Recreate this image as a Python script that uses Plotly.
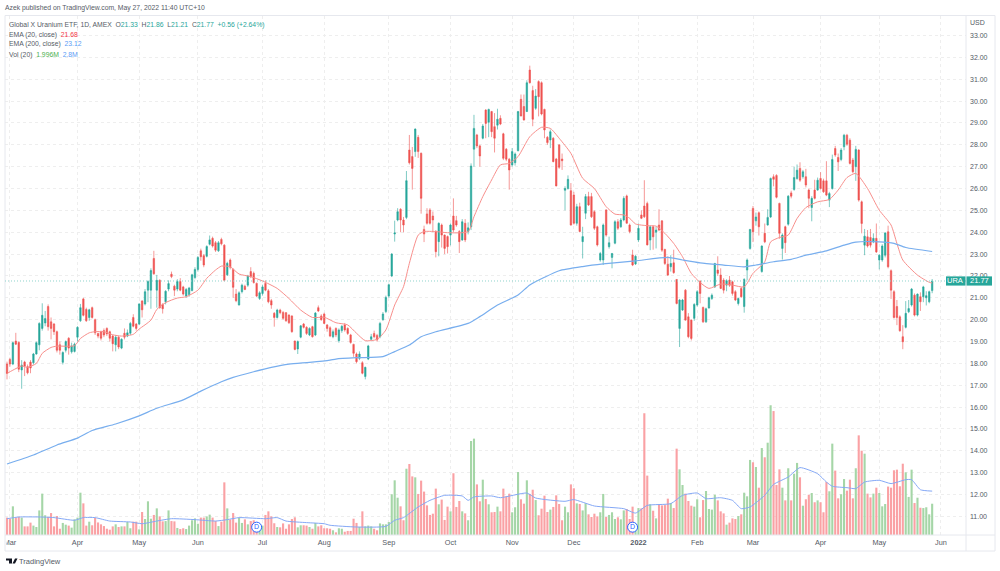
import plotly.graph_objects as go

# Daily OHLC for URA, oldest session first (index 0 = late Feb 2021)
opens = [17.97,18.18,17.97,19.02,18.96,17.7,18.06,17.85,18.06,18.03,
18.43,18.85,19.6,19.85,20.6,19.9,19.8,19.45,18.85,18.05,
18.6,19.15,18.53,18.55,19.2,19.95,20.95,20.47,20.1,20.55,
20.0,19.37,19.45,19.5,19.6,19.45,19.25,18.85,19.2,18.7,
19.38,19.25,19.38,20.1,19.8,19.8,20.85,20.72,21.35,21.35,
22.8,21.35,21.8,20.7,20.82,21.4,22.08,21.53,21.4,21.75,
21.5,21.08,21.15,21.33,21.93,22.3,23.15,22.93,22.9,23.45,
23.72,23.52,23.15,23.67,23.41,22.05,22.73,22.3,21.17,20.67,
21.28,21.53,21.58,22.2,22.12,21.66,20.97,21.2,21.66,21.32,
20.87,20.29,20.1,20.44,20.33,20.32,20.21,20.17,19.02,18.66,
19.2,19.8,19.65,19.3,19.68,19.3,20.55,20.17,20.26,19.76,
19.63,19.22,19.6,19.04,19.5,19.76,19.6,19.3,18.87,18.43,
18.23,18.03,17.4,18.2,19.1,19.37,19.28,19.22,20.0,20.37,
21.08,22.0,23.92,24.56,25.05,24.56,24.68,27.76,27.46,27.69,
28.34,27.61,24.13,24.84,25.02,24.74,24.03,23.57,24.33,23.87,
23.8,23.87,24.74,24.53,24.03,23.65,24.41,24.03,24.25,27.8,
28.45,27.95,28.3,29.59,29.03,29.52,28.83,28.9,29.21,28.5,
27.8,27.34,27.08,27.18,27.73,30.08,29.75,29.52,31.42,30.48,
29.67,30.89,30.84,29.62,28.34,28.22,28.3,27.35,28.0,27.35,
25.92,26.0,25.9,25.7,24.41,25.17,23.57,24.87,25.63,25.63,
24.94,24.25,22.73,22.73,25.02,23.34,22.85,23.5,24.48,24.25,
24.56,25.66,24.33,22.96,22.55,23.65,24.79,25.2,25.32,23.64,
24.25,24.0,24.33,24.52,23.21,22.54,22.42,22.6,21.84,19.6,
20.44,21.35,20.13,19.98,20.06,20.67,21.76,20.56,19.9,20.54,
20.97,21.5,22.27,22.04,21.81,21.58,21.81,21.73,21.28,20.74,
21.43,20.6,22.27,23.26,25.09,24.52,24.89,22.2,23.95,24.33,
24.7,26.54,26.6,25.32,23.26,24.25,24.37,25.8,25.96,26.46,
26.92,26.54,26.54,25.93,25.13,25.93,25.93,26.46,26.35,26.35,
25.47,26.0,27.83,27.42,27.33,27.91,28.44,28.21,27.3,27.0,
27.76,25.39,23.41,23.79,23.76,23.56,23.72,22.73,22.73,22.95,
24.02,22.24,21.28,20.6,20.13,19.22,19.65,20.36,20.67,21.12,
20.21,21.05,21.05,21.0,20.82,21.33]

highs = [18.08,18.26,18.99,19.4,19.0,18.15,18.12,17.95,18.15,18.48,
19.0,19.88,20.75,20.4,20.7,20.1,19.85,19.5,19.0,18.55,
19.05,19.2,18.95,18.95,19.7,20.72,21.0,20.55,20.5,20.6,
20.05,19.4,19.5,19.6,19.65,19.5,19.3,19.3,19.25,19.15,
19.6,19.55,19.9,20.25,19.85,20.75,20.9,21.4,21.8,22.35,
23.15,22.05,21.85,20.75,21.35,21.8,22.2,21.6,21.85,21.9,
21.55,21.45,21.5,22.1,22.4,22.9,23.25,23.0,23.4,23.85,
23.8,23.6,23.6,23.75,23.45,22.65,22.8,22.35,21.4,21.3,
21.65,21.6,22.05,22.4,22.2,21.7,21.3,21.6,21.8,21.4,
20.95,20.35,20.5,20.5,20.4,20.35,20.25,20.2,19.05,19.05,
19.75,19.85,19.7,19.65,19.72,20.35,20.65,20.25,20.32,19.8,
19.7,19.55,19.65,19.6,19.75,19.85,19.65,19.35,18.9,18.5,
18.55,18.1,17.85,18.85,19.35,19.5,19.35,19.9,20.35,21.1,
21.65,23.05,24.53,25.1,25.1,24.7,26.8,28.45,27.9,28.75,
28.45,27.65,24.3,25.1,25.1,24.95,24.1,24.45,24.4,23.9,
23.85,24.4,25.55,24.75,24.1,24.6,24.6,24.45,27.15,29.37,
28.5,28.0,28.95,29.63,29.65,29.55,29.45,29.65,29.35,28.55,
27.85,27.4,27.85,27.65,29.55,30.3,30.3,30.95,31.62,30.7,
30.55,30.95,30.9,29.65,28.4,28.7,28.35,27.4,28.0,27.6,
26.1,26.6,26.25,25.85,25.3,25.35,24.25,25.75,25.85,25.8,
25.0,24.3,23.1,24.4,25.05,23.8,23.05,24.55,24.6,24.65,
25.65,25.72,24.4,23.2,22.95,24.4,25.0,26.38,25.4,24.3,
24.3,24.25,25.05,24.55,23.25,22.9,22.95,23.2,21.85,20.95,
20.95,21.4,20.3,20.0,20.75,21.35,21.8,20.6,20.55,21.05,
21.2,22.6,22.9,22.35,21.9,21.85,22.0,21.78,21.35,21.0,
21.5,21.9,22.8,24.15,25.2,24.9,24.95,23.4,24.4,25.05,
26.5,26.65,26.65,25.35,23.95,24.3,25.7,25.9,27.0,27.1,
27.2,26.85,26.9,26.0,25.65,26.4,26.5,26.75,26.45,27.25,
25.85,27.55,27.95,27.6,27.85,28.5,28.5,28.3,27.4,27.95,
27.8,25.45,24.15,24.1,24.15,23.95,24.4,23.0,23.45,24.0,
24.3,22.3,21.35,20.9,20.2,19.75,20.85,20.9,21.45,21.2,
21.2,21.25,21.55,21.3,21.33,21.86]

lows = [17.27,17.85,17.92,18.84,17.6,16.84,17.42,17.5,17.55,17.95,
18.4,18.6,19.5,19.7,19.5,19.1,19.3,18.5,18.4,17.95,
18.5,18.4,18.45,18.5,19.0,19.9,20.15,19.9,19.95,20.05,
19.3,19.15,19.05,19.2,19.25,19.0,18.55,18.55,18.65,18.65,
19.1,19.2,19.3,19.65,19.5,19.75,20.1,20.65,20.8,20.5,
22.05,20.55,20.5,20.28,20.7,21.3,21.9,21.08,21.3,21.3,
21.1,21.0,21.05,21.3,21.85,22.2,22.7,22.4,22.85,23.4,
23.3,23.1,23.1,23.4,21.75,22.0,22.3,21.0,20.8,20.65,
21.2,21.35,21.5,21.9,21.65,21.03,20.9,21.1,21.3,20.75,
20.5,19.68,20.05,20.25,20.0,19.9,19.8,19.4,18.6,18.43,
19.15,19.6,19.3,19.25,19.18,19.25,20.35,19.95,19.8,19.45,
19.2,19.15,19.2,18.95,19.4,19.45,19.3,18.9,18.3,18.0,
18.15,17.5,17.27,18.15,19.05,19.15,19.0,19.15,19.95,20.3,
21.0,21.95,23.57,24.5,24.0,24.0,24.6,27.1,25.95,27.45,
27.4,24.85,23.55,24.35,24.35,24.0,22.85,22.9,23.3,23.0,
23.03,23.4,24.0,24.25,23.05,23.6,23.55,23.9,24.1,27.0,
27.85,27.0,28.25,28.3,28.35,28.35,27.65,28.7,28.9,27.3,
27.25,25.95,27.0,27.05,27.7,29.3,29.1,29.5,30.8,28.85,
29.6,29.3,29.35,28.3,28.0,27.85,27.2,26.1,26.9,26.85,
25.0,25.95,24.3,24.35,24.3,24.0,22.8,24.6,25.2,24.65,
24.1,23.35,22.65,22.5,23.8,23.25,22.35,23.45,24.1,24.2,
24.5,24.4,23.95,22.45,22.5,23.55,24.6,24.65,23.4,23.18,
23.2,23.26,24.05,23.1,22.5,22.0,22.2,22.1,20.7,18.75,
20.4,19.95,19.15,19.05,19.95,20.6,20.75,19.85,19.85,20.5,
20.9,21.45,22.0,21.4,21.2,21.3,21.5,21.1,20.85,20.65,
21.0,20.32,21.8,23.2,23.55,24.3,23.85,22.15,23.5,24.3,
24.65,26.1,25.55,23.7,22.75,23.05,24.3,25.55,25.9,26.4,
26.3,26.45,26.05,25.1,24.5,25.5,25.9,25.95,25.8,25.65,
25.15,25.95,27.45,26.8,27.25,27.75,27.95,27.1,26.7,26.35,
25.4,23.95,22.95,23.3,23.3,23.5,23.05,22.3,22.65,22.85,
22.35,20.95,20.05,19.75,19.45,18.65,19.6,20.3,20.6,20.15,
20.15,20.4,20.8,20.65,20.75,21.21]

closes = [17.54,17.97,18.95,18.88,17.73,17.92,17.88,17.57,17.79,18.43,
18.95,19.83,20.2,20.05,19.68,19.6,19.45,18.6,18.6,18.5,
19.0,18.7,18.8,18.88,19.65,20.55,20.2,19.95,20.45,20.1,
19.4,19.25,19.15,19.3,19.35,19.15,18.9,19.2,18.75,19.1,
19.2,19.4,19.83,19.7,19.6,20.72,20.45,21.28,21.75,22.25,
22.1,21.8,20.55,20.5,21.3,21.65,21.97,21.35,21.75,21.35,
21.17,21.38,21.45,22.05,22.3,22.85,22.88,22.5,23.35,23.65,
23.37,23.18,23.52,23.47,21.8,22.58,22.4,21.48,20.87,21.23,
21.58,21.38,22.0,21.97,21.7,21.08,21.23,21.5,21.35,20.82,
20.67,20.1,20.44,20.32,20.06,19.95,19.86,19.45,18.64,19.0,
19.72,19.65,19.37,19.6,19.22,20.3,20.4,20.0,19.83,19.6,
19.25,19.45,19.3,19.53,19.7,19.53,19.37,18.96,18.46,18.08,
18.43,17.55,17.82,18.8,19.22,19.22,19.07,19.83,20.26,21.02,
21.6,23.0,23.97,24.94,24.56,24.33,26.36,27.18,26.92,28.72,
27.69,25.55,23.92,24.41,24.41,24.56,23.11,24.41,23.87,23.26,
23.34,24.33,24.1,24.33,23.57,24.48,23.65,24.2,27.03,28.75,
27.95,27.49,28.86,28.98,29.62,28.6,28.3,29.17,28.95,27.38,
27.34,26.85,27.69,27.58,29.52,29.32,29.14,30.84,30.84,29.17,
30.23,30.2,29.41,28.68,28.1,28.6,27.23,26.12,26.97,27.27,
26.0,26.42,24.33,24.41,25.17,24.03,23.8,25.63,25.25,24.71,
24.18,23.42,23.03,24.33,23.87,23.52,23.03,24.48,24.18,24.56,
25.55,24.41,24.03,22.5,22.9,24.18,24.64,24.71,23.42,24.25,
23.79,24.1,24.1,23.18,22.57,22.04,22.57,22.15,20.74,20.9,
20.9,19.98,19.22,19.14,20.7,21.28,21.2,19.9,20.5,21.0,
21.12,22.57,22.12,21.43,21.35,21.78,21.58,21.2,20.9,20.97,
21.05,21.84,22.73,24.13,24.02,24.7,24.25,23.37,23.56,24.68,
26.46,26.42,25.6,23.95,23.87,23.52,25.65,25.65,26.5,26.84,
26.38,26.77,26.16,25.55,25.55,25.55,26.38,26.0,25.85,25.7,
25.77,27.33,27.53,27.22,27.76,28.44,28.03,27.15,26.77,27.79,
25.47,24.4,23.82,23.37,23.41,23.72,23.1,22.95,23.37,23.97,
22.42,21.35,20.1,20.1,19.49,18.99,20.29,20.51,21.4,20.21,
21.17,20.82,21.5,21.1,21.28,21.77]

# Daily volume in millions of shares
volume = [1.11,1.04,1.83,1.11,1.15,1.11,.55,.55,.79,.6,
.51,1.57,2.64,1.26,1.15,1.4,.55,1.21,.4,.77,
.66,.6,.47,1.0,1.11,2.7,2.02,.6,.85,.62,
1.09,.8,.68,.57,.4,.34,.55,.68,.51,.55,
.55,.83,.43,.85,.85,.36,1.47,1.02,2.15,1.04,
1.28,1.7,1.19,.87,.89,1.57,.89,.87,.45,.38,
.43,.38,.6,.94,1.06,.72,1.11,1.11,1.19,1.3,
1.11,.89,.57,.85,3.36,1.7,.98,1.4,.79,1.09,
.77,1.0,.68,.89,.94,.77,.68,.6,1.28,1.51,
1.19,.75,.51,.49,.74,.4,.68,1.02,1.13,.49,
.62,.62,.6,.51,.4,.77,.55,.62,.43,.43,
.4,.3,.17,.43,.4,.21,.26,.26,1.04,.77,
.51,1.51,.55,.6,.55,.4,.3,.74,.68,.68,
.83,2.6,3.49,2.38,1.83,.94,4.23,4.53,3.74,3.68,
2.62,3.47,2.77,1.89,1.28,1.36,2.96,1.96,2.26,.96,
1.81,1.51,3.94,1.79,2.17,1.51,1.38,.94,6.0,6.15,
3.23,2.15,3.53,2.3,1.96,1.45,1.47,1.81,1.51,2.96,
2.47,2.64,1.45,1.77,4.02,2.28,2.0,3.49,2.62,2.89,
2.23,1.26,1.68,2.51,1.47,1.62,1.79,2.53,1.98,.94,
1.81,1.45,3.23,2.98,2.02,1.98,1.57,2.02,1.32,1.15,
1.36,1.19,1.45,2.62,1.15,1.28,1.45,1.02,1.13,1.0,
1.57,1.66,1.02,1.81,.72,1.72,1.7,7.77,3.79,1.96,
1.55,1.06,1.98,1.89,1.91,2.32,
2.04,1.72,5.51,4.19,3.19,2.64,2.17,1.87,1.81,2.28,
1.13,2.23,2.81,1.66,1.62,2.57,2.21,1.51,1.38,.66,
.79,1.06,1.02,1.21,1.32,2.7,2.47,4.79,4.64,4.34,
3.02,5.55,4.96,5.89,8.28,7.91,3.19,4.19,3.02,2.21,
4.26,2.21,3.91,4.6,3.68,1.87,2.28,2.57,2.68,2.09,
2.21,2.09,1.45,3.38,2.79,5.83,4.11,2.34,2.6,3.57,
2.83,3.53,2.34,4.26,6.36,5.38,5.19,2.64,2.4,2.64,
3.02,2.68,1.83,1.98,3.09,3.02,4.13,4.17,3.11,4.55,
4.0,2.43,4.17,2.04,2.38,1.74,1.72,1.77,1.32,1.996]

# Indicator lines, sampled every few sessions
ema20_days = [0,2,5,7,10,12,15,17,23,25,28,30,33,36,39,43,45,49,51,54,58,61,65,68,71,73,76,79,83,87,92,96,100,104,108,
112,116,119,122,126,129,132,135,137,140,142,146,150,157,159,162,165,168,171,174,178,182,185,188,192,196,200,204,207,210,212,
214,218,221,224,227,230,233,236,239,243,247,251,254,258,260,263,266,269,272,276,280,283,286,289,293,297,301,303,305,310,314,315]
ema20 = [17.54,17.69,17.88,17.82,18.0,18.46,18.73,18.79,18.81,19.14,19.4,19.45,19.45,19.31,19.25,19.33,19.57,19.98,20.47,20.78,20.99,21.05,21.35,21.89,22.27,22.45,22.42,22.09,21.97,21.77,21.43,20.97,20.44,20.1,20.11,
19.86,19.76,19.38,19.04,19.1,19.53,20.67,21.51,22.58,23.87,24.03,24.03,23.98,24.03,24.71,25.63,26.39,27.08,27.15,27.46,28.37,28.8,28.75,28.3,27.61,26.47,26.0,25.17,24.83,24.79,24.64,
24.38,24.3,24.28,23.95,23.49,22.88,22.12,21.7,21.43,21.63,21.58,21.5,22.12,22.65,23.56,23.76,23.87,24.63,25.13,25.39,25.5,25.93,26.5,26.69,26.0,25.01,24.33,23.49,22.73,22.04,21.71,21.68]

ema200_days = [0,9,17,24,29,37,45,51,60,66,73,77,84,90,96,103,110,112,119,128,132,137,141,146,157,161,167,174,178,183,188,196,203,214,225,230,236,244,251,255,261,267,272,279,285,289,297,302,306,315]
ema200 = [13.4,13.81,14.27,14.58,14.93,15.23,15.6,15.95,16.33,16.73,17.16,17.36,17.62,17.82,17.97,18.05,18.15,18.2,18.26,18.31,18.54,18.84,19.22,19.45,19.83,20.14,20.67,21.13,21.59,21.94,22.24,22.43,22.55,22.69,22.85,22.73,22.6,22.5,22.42,22.5,22.65,22.76,22.95,23.15,23.41,23.55,23.56,23.49,23.3,23.12]

volma_days = [0,4,11,16,23,26,30,35,42,46,51,56,64,71,75,79,88,92,95,102,108,110,119,129,132,135,140,144,149,155,157,159,165,168,177,180,190,193,200,210,214,218,226,230,235,238,243,247,250,253,258,261,266,270,276,279,281,286,289,292,297,301,306,308,311,315]
volma = [1.04,1.15,1.15,1.11,.94,1.11,1.11,.89,.83,.72,.89,1.04,.98,.89,.98,1.11,1.04,1.11,.89,.79,.72,.62,.51,.55,.94,1.11,1.79,2.21,2.53,2.49,2.21,2.43,2.49,2.38,2.68,2.36,2.15,2.26,1.85,1.68,1.4,1.89,2.0,2.53,2.68,2.32,2.38,2.21,1.68,1.79,2.53,3.23,3.7,4.3,3.91,3.38,3.11,3.02,2.96,3.38,3.49,3.28,3.53,3.53,2.89,2.8]

dividend_days = [85, 213]

month_days = [1,24,45,65,87,108,130,151,172,193,215,235,254,277,297,318]
month_labels = ["Mar","Apr","May","Jun","Jul","Aug","Sep","Oct","Nov","Dec","<b>2022</b>","Feb","Mar","Apr","May","Jun"]

price_ticks = list(range(11, 34))

UP, DOWN = "#26a69a", "#ef5350"
VOL_UP, VOL_DOWN = "#a5d6a7", "#faa1a4"
TEXT = "#555b66"
FRAME = "#e6e8ee"
GRID = "#eeeeee"
FONT = "Liberation Sans"

W, H = 1000, 571
L, R, T, B = 5, 966, 16, 535
BAR_STEP = 2.937
FIRST_BAR = 7.0


def px(x):
    return (x - L) / (R - L)


def py(y):
    return (B - y) / (B - T)


days = list(range(len(closes)))
fig = go.Figure()

fig.add_trace(go.Candlestick(
    x=days, open=opens, high=highs, low=lows, close=closes,
    increasing=dict(line=dict(color=UP, width=0.6), fillcolor=UP),
    decreasing=dict(line=dict(color=DOWN, width=0.6), fillcolor=DOWN),
    whiskerwidth=0, showlegend=False, xaxis="x", yaxis="y",
))
fig.add_trace(go.Scatter(x=ema20_days, y=ema20, mode="lines",
                         line=dict(color="#f88f8c", width=1, shape="spline", smoothing=0.6),
                         showlegend=False, yaxis="y"))
fig.add_trace(go.Scatter(x=ema200_days, y=ema200, mode="lines",
                         line=dict(color="#78aeee", width=1.2, shape="spline", smoothing=0.6),
                         showlegend=False, yaxis="y"))
fig.add_trace(go.Bar(x=days, y=volume,
                     marker=dict(color=[VOL_UP if c >= o else VOL_DOWN for o, c in zip(opens, closes)], line_width=0),
                     showlegend=False, yaxis="y2"))
fig.add_trace(go.Scatter(x=volma_days, y=volma, mode="lines",
                         line=dict(color="#84a8f6", width=1, shape="spline", smoothing=0.5),
                         showlegend=False, yaxis="y2"))
fig.add_trace(go.Scatter(x=dividend_days, y=[0.5] * len(dividend_days), mode="markers+text",
                         text=["D"] * len(dividend_days), textposition="middle center",
                         textfont=dict(family=FONT, size=7, color="#2962ff"),
                         marker=dict(size=10, color="white", line=dict(color="#2962ff", width=1)),
                         showlegend=False, yaxis="y2"))

shapes = [
    # Cuts the first month label at the pane edge
    dict(type="rect", xref="paper", yref="paper", x0=px(0), x1=px(6.5), y0=py(536), y1=py(550), fillcolor="white", line_width=0, layer="above"),
    # Frame round the pane and the two scales
    dict(type="line", xref="paper", yref="paper", x0=px(5), x1=px(995), y0=py(15.5), y1=py(15.5), line=dict(color=FRAME, width=1), layer="above"),
    dict(type="line", xref="paper", yref="paper", x0=px(5), x1=px(995), y0=py(551), y1=py(551), line=dict(color=FRAME, width=1), layer="above"),
    dict(type="line", xref="paper", yref="paper", x0=px(5), x1=px(995), y0=py(535), y1=py(535), line=dict(color=FRAME, width=1), layer="above"),
    dict(type="line", xref="paper", yref="paper", x0=px(5), x1=px(5), y0=py(15.5), y1=py(551), line=dict(color=FRAME, width=1), layer="above"),
    dict(type="line", xref="paper", yref="paper", x0=px(966), x1=px(966), y0=py(15.5), y1=py(551), line=dict(color=FRAME, width=1), layer="above"),
    dict(type="line", xref="paper", yref="paper", x0=px(995), x1=px(995), y0=py(15.5), y1=py(551), line=dict(color=FRAME, width=1), layer="above"),
    # Last price line and its flag
    dict(type="line", xref="paper", yref="y", x0=0, x1=1, y0=closes[-1], y1=closes[-1], line=dict(color="#8fd3cc", width=1, dash="1px,2px")),
    dict(type="rect", xref="paper", yref="y", x0=px(946), x1=px(965.5), y0=closes[-1] - 0.21, y1=closes[-1] + 0.21, fillcolor=UP, line_width=0, layer="above"),
    dict(type="rect", xref="paper", yref="y", x0=px(966.5), x1=px(992), y0=closes[-1] - 0.21, y1=closes[-1] + 0.21, fillcolor=UP, line_width=0, layer="above"),
    # TradingView mark
    dict(type="path", xref="paper", yref="paper", fillcolor="#131722", line_width=0,
         path=f"M {px(6)},{py(558.5)} L {px(12)},{py(558.5)} L {px(12)},{py(563.5)} L {px(9)},{py(563.5)} L {px(9)},{py(560.5)} L {px(6)},{py(560.5)} Z"),
    dict(type="path", xref="paper", yref="paper", fillcolor="#131722", line_width=0,
         path=f"M {px(15)},{py(558.5)} L {px(17.5)},{py(558.5)} L {px(15)},{py(563.5)} L {px(12.5)},{py(563.5)} Z"),
]


def note(x, y, text, size=6.8, color=TEXT, anchor="left", yref="paper"):
    return dict(x=px(x), y=py(y) if yref == "paper" else y, xref="paper", yref=yref, text=text, showarrow=False,
                xanchor=anchor, yanchor="middle", borderpad=0, borderwidth=0, align="left",
                font=dict(family=FONT, size=size, color=color))


def col(text, color):
    return f'<span style="color:{color}">{text}</span>'


gap = "\u00a0"
annotations = [
    note(5, 8.5, "Azek published on TradingView.com, May 27, 2022 11:40 UTC+10"),
    note(9, 24.5, "Global X Uranium ETF, 1D, AMEX" + gap + gap + "O" + col("21.33", UP) + gap + gap + "H" + col("21.86", UP)
         + gap + gap + "L" + col("21.21", UP) + gap + gap + "C" + col("21.77", UP) + gap + gap + col("+0.56 (+2.64%)", UP)),
    note(9, 34.5, "EMA (20, close)" + gap + gap + col("21.68", "#f23645")),
    note(9, 44.5, "EMA (200, close)" + gap + gap + col("23.12", "#5b9cf6")),
    note(9, 54.5, "Vol (20)" + gap + gap + col("1.996M", "#4caf50") + gap + gap + col("2.8M", "#5b9cf6")),
    note(970, 22.5, "USD", size=7),
    note(955, closes[-1], "URA", size=7.5, color="white", anchor="center", yref="y"),
    note(979.5, closes[-1], f"{closes[-1]:.2f}", size=7.5, color="white", anchor="center", yref="y"),
    note(18.5, 561, "TradingView", size=7.5),
]

fig.update_layout(
    width=W, height=H, autosize=False,
    margin=dict(l=L, r=W - R, t=T, b=H - B, pad=0),
    paper_bgcolor="white", plot_bgcolor="white",
    showlegend=False, bargap=0.28,
    font=dict(family=FONT, size=7.3, color=TEXT),
    xaxis=dict(range=[(L - FIRST_BAR) / BAR_STEP, (R - FIRST_BAR) / BAR_STEP],
               tickmode="array", tickvals=month_days, ticktext=month_labels,
               showgrid=True, gridcolor=GRID, griddash="3px,3px", gridwidth=1,
               ticks="", showline=False, zeroline=False, rangeslider=dict(visible=False),
               ticklabelstandoff=2,
               tickfont=dict(family=FONT, size=7.3, color=TEXT)),
    yaxis=dict(range=[33 - (B - 35.5) / 21.86, 33 + (35.5 - T) / 21.86], side="right",
               tickmode="array", tickvals=price_ticks, tickformat=".2f",
               showgrid=True, gridcolor=GRID, griddash="3px,3px", gridwidth=1,
               ticks="", showline=False, zeroline=False,
               ticklabelstandoff=3,
               tickfont=dict(family=FONT, size=7, color=TEXT)),
    yaxis2=dict(overlaying="y", side="right", range=[0, (B - T) / 15.67], visible=False),
    shapes=shapes, annotations=annotations,
)

assert len(opens) == len(highs) == len(lows) == len(closes) == len(volume), (len(opens), len(highs), len(lows), len(closes), len(volume))
fig.write_html("out.html", config=dict(displayModeBar=False))
